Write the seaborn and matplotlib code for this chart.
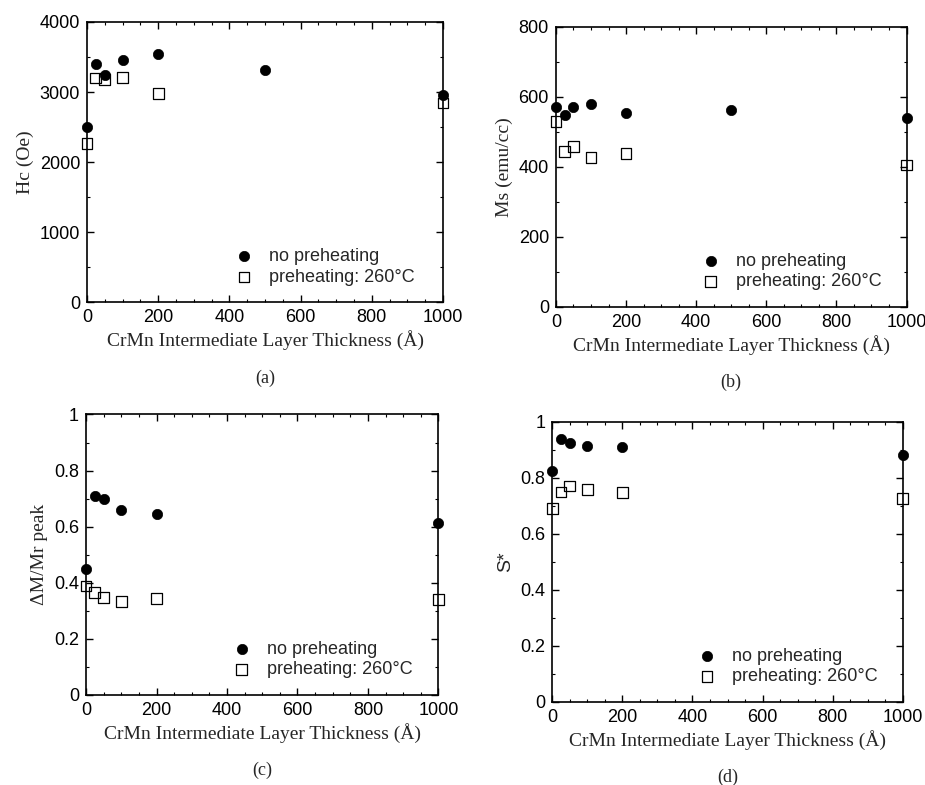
import numpy as np
import pandas as pd
import seaborn as sns
import matplotlib.pyplot as plt
from matplotlib.ticker import MultipleLocator, FuncFormatter

sns.set_style("ticks")
plt.rcParams["font.family"] = ["Liberation Sans", "DejaVu Sans"]

# thickness of the CrMn layer (Å)
thick_no = [0, 25, 50, 100, 200, 500, 1000]
thick_pre = [0, 25, 50, 100, 200, 1000]

hc_no = [2500, 3405, 3238, 3452, 3548, 3310, 2952]
hc_pre = [2262, 3200, 3181, 3205, 2976, 2843]

ms_no = [571, 548, 571, 578, 555, 562, 538]
ms_pre = [529, 443, 457, 427, 438, 405]

dm_no = [0.449, 0.708, 0.699, 0.660, 0.646, None, 0.612]
dm_pre = [0.388, 0.364, 0.346, 0.334, 0.344, 0.340]

s_no = [0.825, 0.937, 0.925, 0.913, 0.910, None, 0.881]
s_pre = [0.690, 0.749, 0.770, 0.758, 0.746, 0.726]

lab_no = "no preheating"
lab_pre = "preheating: 260°C"
xlabel = "CrMn Intermediate Layer Thickness (Å)"

panels = [
    # axes rect, ylabel, y_no, y_pre, ylim, major, minor, tag
    ([0.094, 0.615, 0.385, 0.357], "Hc (Oe)", hc_no, hc_pre, 4000, 1000, 500, "(a)"),
    ([0.601, 0.609, 0.379, 0.357], "Ms (emu/cc)", ms_no, ms_pre, 800, 200, 100, "(b)"),
    ([0.093, 0.115, 0.381, 0.357], "ΔM/Mr peak", dm_no, dm_pre, 1, 0.2, 0.1, "(c)"),
    ([0.597, 0.106, 0.379, 0.357], "S*", s_no, s_pre, 1, 0.2, 0.1, "(d)"),
]

fig = plt.figure(figsize=(9.25, 7.85), dpi=100)

for rect, ylab, y_no, y_pre, ytop, maj, mnr, tag in panels:
    ax = fig.add_axes(rect)
    d_no = pd.DataFrame({"x": thick_no, "y": y_no}).dropna()
    d_pre = pd.DataFrame({"x": thick_pre, "y": y_pre})

    sns.scatterplot(data=d_no, x="x", y="y", ax=ax, marker="o", s=55,
                    color="black", edgecolor="black", linewidth=0.5,
                    label=lab_no, clip_on=False, zorder=3)
    sns.scatterplot(data=d_pre, x="x", y="y", ax=ax, marker="s", s=60,
                    facecolor="none", edgecolor="black", linewidth=0.9,
                    label=lab_pre, clip_on=False, zorder=3)

    ax.set_xlim(0, 1000)
    ax.set_ylim(0, ytop)
    ax.xaxis.set_major_locator(MultipleLocator(200))
    ax.xaxis.set_minor_locator(MultipleLocator(50))
    ax.yaxis.set_major_locator(MultipleLocator(maj))
    ax.yaxis.set_minor_locator(MultipleLocator(mnr))
    ax.yaxis.set_major_formatter(FuncFormatter(lambda v, p: f"{v:g}"))
    ax.tick_params(which="both", direction="in", top=True, right=True,
                   labelsize=13, colors="black")
    ax.tick_params(which="major", length=5, width=1, pad=5)
    ax.tick_params(which="minor", length=2.5, width=0.8)
    for sp in ax.spines.values():
        sp.set_linewidth(1.2)
        sp.set_color("black")

    ax.set_xlabel(xlabel, family="Liberation Serif", fontsize=14, labelpad=3)
    ax.set_ylabel(ylab, family="Liberation Serif" if ylab != "S*" else "Liberation Sans",
                  fontsize=14, labelpad=4)

    ax.legend(loc="lower left", bbox_to_anchor=(0.385, 0.02), frameon=False,
              fontsize=13, handletextpad=0.9, labelspacing=0.2,
              borderaxespad=0.2, handlelength=1.0)

    ax.text(0.5, -0.27, tag, transform=ax.transAxes, ha="center", va="center",
            family="Liberation Serif", fontsize=13)

fig.savefig("out.png", dpi=100)
